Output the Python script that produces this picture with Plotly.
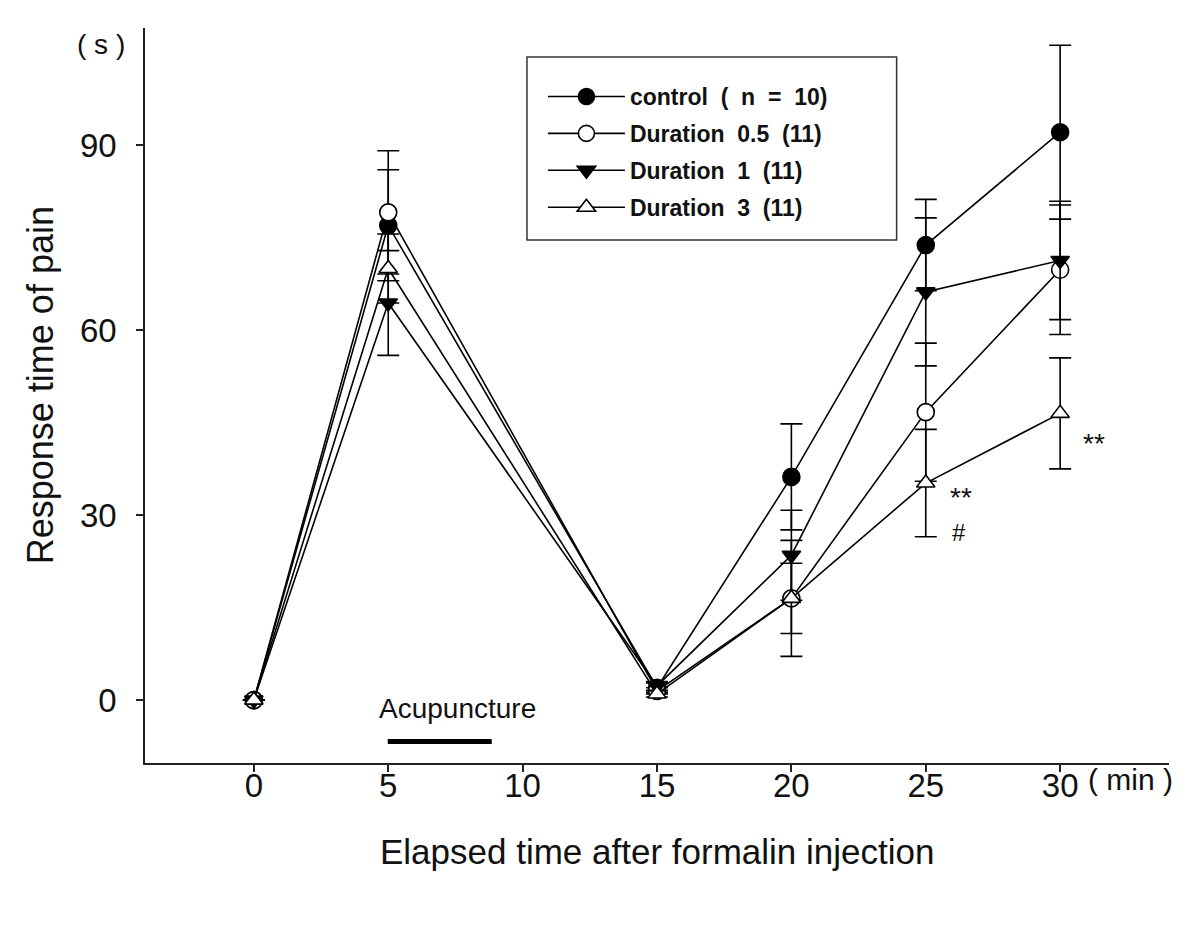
import plotly.graph_objects as go

# ---- data ----
time_min = [0, 5, 15, 20, 25, 30]

control = [0, 77.0, 2.0, 36.2, 73.8, 92.1]
control_err = [0, 9.0, 0.8, 8.6, 7.4, 14.1]

dur05 = [0, 79.1, 1.5, 16.5, 46.7, 69.8]
dur05_err = [0, 10.0, 0.5, 9.4, 11.2, 10.5]

dur1 = [0, 64.4, 2.3, 23.5, 66.2, 71.3]
dur1_err = [0, 8.5, 0.7, 7.3, 12.0, 9.6]

dur3 = [0, 70.0, 1.0, 16.5, 35.2, 46.5]
dur3_err = [0, 5.6, 0.5, 5.7, 8.7, 9.0]

NB = "\u00a0"
series_names = [
    "control" + NB + " (" + NB + " n" + NB + " =" + NB + " 10)",
    "Duration" + NB + " 0.5" + NB + " (11)",
    "Duration" + NB + " 1" + NB + " (11)",
    "Duration" + NB + " 3" + NB + " (11)",
]
series_vals = [control, dur05, dur1, dur3]
series_errs = [control_err, dur05_err, dur1_err, dur3_err]
symbols = ["circle", "circle", "triangle-down", "triangle-up"]
fills = ["black", "white", "black", "white"]
sizes = [17, 17, 16, 16]

# significance marks: (x, y, text, font size)
sig_x = [26.3, 26.25, 31.25]
sig_y = [32.9, 27.2, 41.6]
sig_text = ["**", "#", "**"]
sig_size = [28, 24, 28]

# acupuncture period
acu_start, acu_end = 4.98, 8.85

FONT = "Liberation Sans, Arial, sans-serif"
INK = "#111"

fig = go.Figure()
for i, (name, vals, errs, sym, fc, sz) in enumerate(zip(series_names, series_vals, series_errs, symbols, fills, sizes)):
    fig.add_trace(go.Scatter(
        x=time_min, y=vals, name=name, mode="lines+markers",
        legendgroup=f"g{i}",
        line=dict(color="black", width=1.6),
        marker=dict(symbol=sym, size=sz, color=fc, line=dict(color="black", width=1.6)),
        error_y=dict(type="data", array=errs, visible=True, color="black", thickness=1.6, width=11),
    ))

# acupuncture bar
fig.add_shape(type="line", xref="x", yref="y", x0=acu_start, x1=acu_end, y0=-6.7, y1=-6.7,
              line=dict(color="black", width=5))
fig.add_annotation(x=(acu_start + acu_end) / 2 + 0.65, y=-1.3, xref="x", yref="y", text="Acupuncture",
                   showarrow=False, xanchor="center", yanchor="middle",
                   font=dict(family=FONT, size=28, color=INK))

for sx, sy, st, ss in zip(sig_x, sig_y, sig_text, sig_size):
    fig.add_annotation(x=sx, y=sy, xref="x", yref="y", text=st, showarrow=False,
                       xanchor="center", yanchor="middle",
                       font=dict(family=FONT, size=ss, color=INK))

# legend frame
fig.add_shape(type="rect", xref="paper", yref="paper", x0=0.373, x1=0.734, y0=0.7116, y1=0.9605,
              line=dict(color="#333", width=1.5), fillcolor="rgba(0,0,0,0)", layer="below")

# units and axis titles
fig.add_annotation(x=-0.043, y=0.978, xref="paper", yref="paper", text="(" + NB + "s" + NB + ")",
                   showarrow=False, xanchor="center", yanchor="middle",
                   font=dict(family=FONT, size=28, color=INK))
fig.add_annotation(x=0.962, y=-0.023, xref="paper", yref="paper",
                   text="(" + NB + "min" + NB + ")",
                   showarrow=False, xanchor="center", yanchor="middle",
                   font=dict(family=FONT, size=30, color=INK))
fig.add_annotation(x=0.5, y=-0.121, xref="paper", yref="paper",
                   text="Elapsed time after formalin injection", showarrow=False,
                   xanchor="center", yanchor="middle",
                   font=dict(family=FONT, size=35, color=INK))
fig.add_annotation(x=-0.1025, y=0.514, xref="paper", yref="paper", textangle=-90,
                   text="Response time of pain", showarrow=False,
                   xanchor="center", yanchor="middle",
                   font=dict(family=FONT, size=36, color=INK))

fig.update_layout(
    width=1192, height=926,
    margin=dict(l=137, r=31, t=20, b=171),
    plot_bgcolor="white", paper_bgcolor="white",
    font=dict(family=FONT, color=INK),
    showlegend=True,
    legend=dict(
        x=0.3886, y=0.936, xanchor="left", yanchor="top",
        borderwidth=0, bgcolor="rgba(255,255,255,0)",
        font=dict(family=FONT, size=23, color=INK, weight="bold"),
        tracegroupgap=4, traceorder="grouped", itemwidth=77,
    ),
    xaxis=dict(
        range=[-4.05, 34.05], tickvals=[0, 5, 10, 15, 20, 25, 30],
        showline=True, linecolor="#222", linewidth=1.6, mirror=False,
        ticks="outside", ticklen=7, tickwidth=1.6, tickcolor="#222",
        showgrid=False, zeroline=False, ticklabelstandoff=-14,
        tickfont=dict(family=FONT, size=33, color=INK),
    ),
    yaxis=dict(
        range=[-10.2, 109], tickvals=[0, 30, 60, 90],
        showline=True, linecolor="#222", linewidth=1.6, mirror=False,
        ticks="outside", ticklen=7, tickwidth=1.6, tickcolor="#222",
        showgrid=False, zeroline=False, ticklabelstandoff=13,
        tickfont=dict(family=FONT, size=33, color=INK),
    ),
)

fig.write_html("out.html")
